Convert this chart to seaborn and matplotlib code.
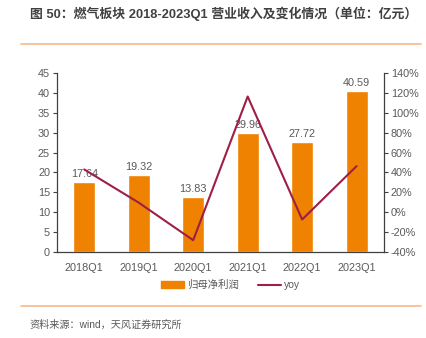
import matplotlib
matplotlib.use("Agg")
import matplotlib.pyplot as plt
import seaborn as sns
import pandas as pd
from matplotlib.lines import Line2D
from matplotlib.patches import Patch

sns.set_theme(style="white")
plt.rcParams['font.family'] = ['Liberation Sans', 'Noto Sans CJK SC', 'DejaVu Sans']
plt.rcParams['axes.unicode_minus'] = True

categories = ["2018Q1", "2019Q1", "2020Q1", "2021Q1", "2022Q1", "2023Q1"]
profit = [17.64, 19.32, 13.83, 29.96, 27.72, 40.59]
yoy = [43.0, 9.5, -28.4, 116.6, -7.5, 46.4]

bar_color = "#EF8200"
line_color = "#9E1F45"
text_color = "#595959"

df = pd.DataFrame({"cat": categories, "profit": profit, "yoy": yoy})

fig = plt.figure(figsize=(4.27, 3.38), dpi=100)
ax = fig.add_axes([0.1335, 0.2553, 0.7655, 0.5278])

sns.barplot(data=df, x="cat", y="profit", color=bar_color, width=0.4,
            saturation=1, ax=ax)
ax.set_ylim(0, 45)
ax.set_yticks(range(0, 46, 5))
ax.set_xlabel("")
ax.set_ylabel("")
for i, v in enumerate(profit):
    ax.text(i, v + 0.8, f"{v:.2f}", ha="center", va="bottom", fontsize=7.8, color=text_color)

ax2 = ax.twinx()
sns.lineplot(x=list(range(len(categories))), y=yoy, color=line_color, linewidth=1.5, ax=ax2)
ax2.set_ylim(-40, 140)
ax2.set_yticks(range(-40, 141, 20))
ax2.set_yticklabels([f"{t}%" for t in range(-40, 141, 20)])
ax.set_xlim(-0.5, 5.5)

for a in (ax, ax2):
    for s in a.spines.values():
        s.set_visible(False)
ax.spines["left"].set_visible(True)
ax.spines["bottom"].set_visible(True)
ax2.spines["right"].set_visible(True)
for s in [ax.spines["left"], ax.spines["bottom"], ax2.spines["right"]]:
    s.set_color("#404040")
    s.set_linewidth(0.9)

ax.tick_params(axis="y", which="both", left=True, length=3, width=0.8, color="#404040",
               labelsize=7.8, labelcolor=text_color, pad=2)
ax.tick_params(axis="x", bottom=False, labelsize=7.8, labelcolor=text_color, pad=2)
ax2.tick_params(axis="y", right=True, length=3, width=0.8, color="#404040",
                labelsize=7.8, labelcolor=text_color, pad=2)

handles = [Patch(color=bar_color), Line2D([0], [0], color=line_color, lw=1.5)]
fig.legend(handles, ["归母净利润", "yoy"], loc="center", bbox_to_anchor=(0.54, 0.157),
           ncol=2, frameon=False, fontsize=7.5, labelcolor=text_color,
           handlelength=2.2, handleheight=0.6, columnspacing=1.8, handletextpad=0.3)

fig.text(0.07, 0.958, "图 50：燃气板块 2018-2023Q1 营业收入及变化情况（单位：亿元）",
         fontsize=9.3, color="#404040", fontweight="bold", va="center")
fig.add_artist(Line2D([0.05, 0.985], [0.87, 0.87], color="#F6B98A", lw=1.2,
                      transform=fig.transFigure))
fig.add_artist(Line2D([0.05, 0.985], [0.094, 0.094], color="#F6B98A", lw=1.2,
                      transform=fig.transFigure))
fig.text(0.07, 0.038, "资料来源：wind，天风证券研究所", fontsize=7.3, color=text_color, va="center")

fig.savefig("out.png", dpi=100)
